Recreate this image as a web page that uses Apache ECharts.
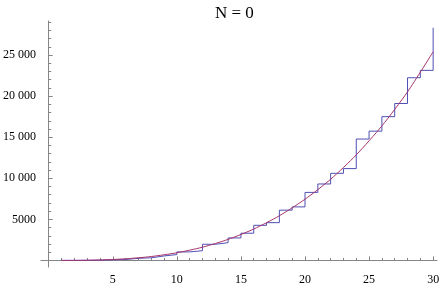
<!DOCTYPE html>
<html>
<head>
<meta charset="utf-8">
<script src="https://cdn.jsdelivr.net/npm/echarts@6/dist/echarts.min.js"></script>
<style>
  html, body { margin: 0; padding: 0; background: #fff; }
  #chart { width: 443px; height: 286px; }
</style>
</head>
<body>
<div id="chart"></div>
<script>
// step values S(n), held from n to n+1
const stepX = [1, 2, 3, 4, 5, 6, 7, 8, 9, 10, 11, 12, 13, 14, 15, 16, 17, 18, 19, 20,
    21, 22, 23, 24, 25, 26, 27, 28, 29, 30];
const stepY = [1, 10, 26, 75, 111, 255, 319, 544, 713, 1037, 1181, 1965, 2161, 2737, 3313,
    4274, 4598, 6119, 6519, 8283, 9307, 10603, 11179, 14779, 15740, 17504, 19104, 22240,
    23140, 28324];

// smooth curve
const curveX = [1, 2, 4, 6, 8, 10, 12, 14, 16, 18, 20, 22, 24, 26, 28, 30];
const curveY = [1, 7, 60, 200, 475, 930, 1610, 2560, 3820, 5440, 7450, 9880, 12850,
    16380, 20520, 25400];

const xTickLabels = [5, 10, 15, 20, 25, 30];
const yTickLabels = [5000, 10000, 15000, 20000, 25000];

const chart = echarts.init(document.getElementById('chart'));

const axisColor = '#858585';
const serif = '"Liberation Serif", "Times New Roman", serif';
const labelFont = { fontFamily: serif, fontSize: 12, color: '#000' };

chart.setOption({
    animation: false,
    title: {
        text: 'N = 0',
        left: 210,
        top: 0,
        textStyle: { fontFamily: serif, fontSize: 17, fontWeight: 'normal', color: '#000' }
    },
    grid: { left: 32, right: 6, top: 21, bottom: 13 },
    xAxis: {
        type: 'value',
        min: -0.6,
        max: 30.3,
        splitNumber: 6,
        axisLine: { onZero: true, lineStyle: { color: axisColor, width: 1 } },
        axisTick: { inside: true, length: 4, customValues: xTickLabels, lineStyle: { color: axisColor } },
        minorTick: { show: true, splitNumber: 5, length: 2.5, lineStyle: { color: axisColor } },
        axisLabel: Object.assign({ customValues: xTickLabels, margin: 7 }, labelFont),
        splitLine: { show: false }
    },
    yAxis: {
        type: 'value',
        min: -800,
        max: 29150,
        splitNumber: 6,
        axisLine: { onZero: true, lineStyle: { color: axisColor, width: 1 } },
        axisTick: { inside: true, length: 4, customValues: yTickLabels, lineStyle: { color: axisColor } },
        minorTick: { show: true, splitNumber: 5, length: 2.5, lineStyle: { color: axisColor } },
        axisLabel: Object.assign({
            customValues: yTickLabels,
            margin: 5,
            formatter: v => v >= 10000 ? Math.floor(v / 1000) + ' ' + String(v % 1000).padStart(3, '0') : String(v)
        }, labelFont),
        splitLine: { show: false }
    },
    series: [
        {
            type: 'line',
            step: 'end',
            data: stepX.map((x, i) => [x, stepY[i]]),
            symbol: 'none',
            lineStyle: { color: '#4f4fb4', width: 1 },
            z: 2
        },
        {
            type: 'line',
            smooth: 0.25,
            data: curveX.map((x, i) => [x, curveY[i]]),
            symbol: 'none',
            lineStyle: { color: '#a5336c', width: 1 },
            z: 3
        }
    ]
});
</script>
</body>
</html>
